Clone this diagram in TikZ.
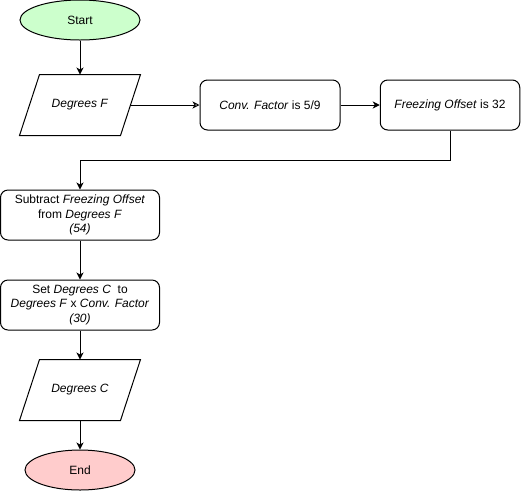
\documentclass[tikz,border=0pt]{standalone}
\usepackage{fontspec}
\setmainfont{Liberation Sans}
\usetikzlibrary{shapes.geometric,arrows.meta,calc}

\definecolor{startfill}{HTML}{CCFFCC}
\definecolor{endfill}{HTML}{FFCCCC}

\tikzset{
  base/.style={draw=black, line width=1pt, align=center, inner sep=2pt,
    font=\fontsize{12}{14.5}\selectfont},
  terminal/.style={base, ellipse, minimum height=40pt},
  % the data node is a plain box; its slanted outline is drawn separately
  io/.style={base, draw=none, rectangle, minimum width=100pt, minimum height=60pt},
  ioborder/.style={draw=black, line width=1pt, line join=miter},
  process/.style={base, rectangle, rounded corners=7.5pt,
    minimum width=140pt, minimum height=50pt},
  widebox/.style={process, minimum width=159pt},
  flow/.style={line width=1pt, -{Stealth[length=7pt,width=7pt,inset=2pt]}},
  openflow/.style={line width=1pt, -{Stealth[open,length=7pt,width=7pt,inset=2pt]}},
}

\begin{document}
\begin{tikzpicture}[x=1pt, y=-1pt]
  \useasboundingbox (0,0) rectangle (521,491);

  % terminals
  \node[terminal, fill=startfill, minimum width=120pt] (start) at (80,20) {Start};
  \node[terminal, fill=endfill, minimum width=110pt] (end) at (80,470) {End};

  % input / output
  \node[io] (degF) at (80,105) {\textit{Degrees F}};
  \node[io] (degC) at (80,390) {\textit{Degrees C}};
  \foreach \n in {degF,degC}
    \draw[ioborder] ($(\n.north west)+(10,0)$) -- ($(\n.north east)+(10,0)$)
      -- ($(\n.south east)+(-10,0)$) -- ($(\n.south west)+(-10,0)$) -- cycle;

  % constants
  \node[process] (conv) at (270,105) {\textit{Conv. Factor} is 5/9};
  \node[process, minimum width=139.5pt] (freeze) at (450,105) {\textit{Freezing Offset} is 32};

  % computation steps
  \node[widebox] (sub) at (80,215)
    {Subtract \textit{Freezing Offset}\\from \textit{Degrees F}\\\textit{(54)}};
  \node[widebox] (set) at (80,305)
    {Set \textit{Degrees C\ } to\\\textit{Degrees F} x \textit{Conv. Factor}\\\textit{(30)}};

  % connectors
  \draw[flow] (start) -- (degF);
  \draw[openflow] (degF.east) -- (conv.west);
  \draw[flow] (conv) -- (freeze);
  \draw[flow] (freeze.south) -- ++(0,30) -| (sub.north);
  \draw[flow] (sub) -- (set);
  \draw[flow] (set) -- (degC);
  \draw[flow] (degC) -- (end);
\end{tikzpicture}
\end{document}
